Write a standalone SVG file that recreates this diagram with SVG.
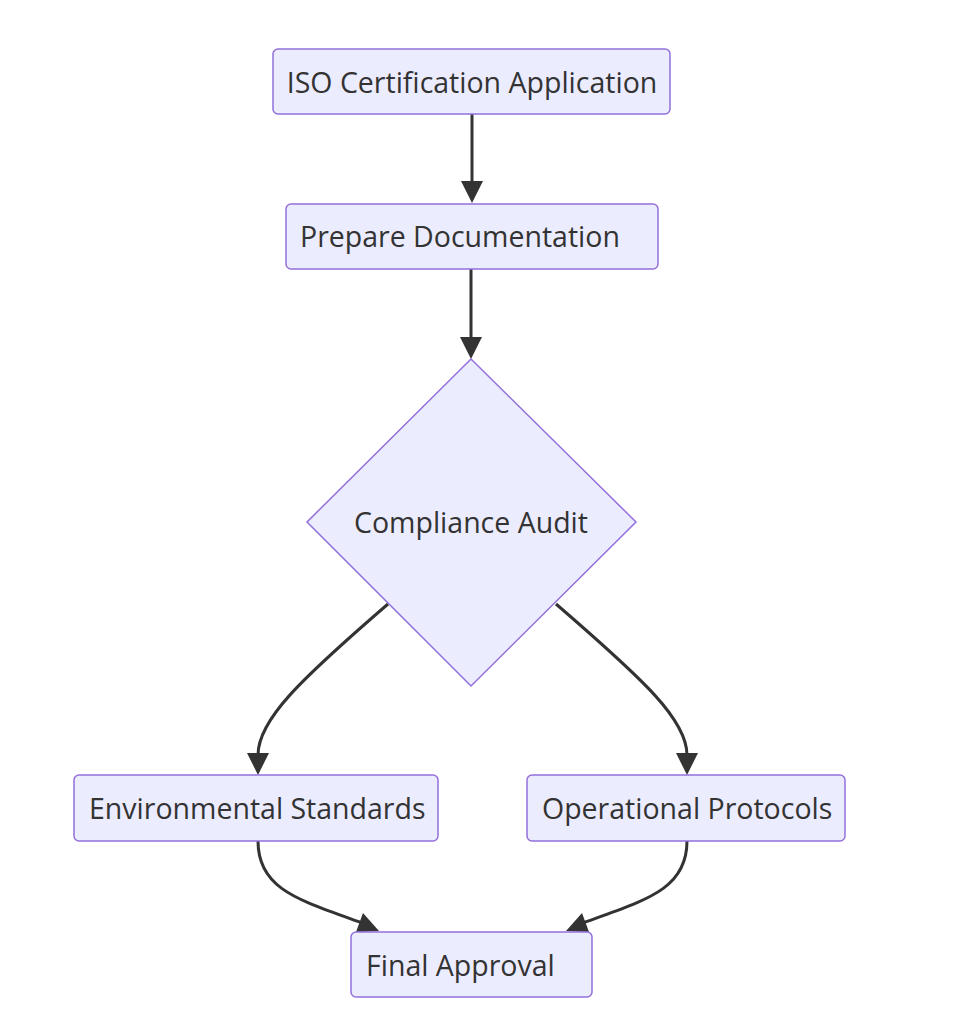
<svg xmlns="http://www.w3.org/2000/svg" width="956" height="1024" viewBox="0 0 956 1024">
<defs>
<style>
.n{fill:#ECECFF;stroke:#9370DB;stroke-width:1.5}
.t{font-family:"Open Sans","Liberation Sans",sans-serif;font-size:28.5px;fill:#333333}
.e{fill:none;stroke:#333333;stroke-width:3}
.h{fill:#333333}
</style>
</defs>
<rect width="956" height="1024" fill="#ffffff"/>
<g id="edges">
<path class="e" d="M472,114 L472,185"/>
<path class="h" d="M461,181 L483,181 L472,203 z"/>
<path class="e" d="M471,269 L471,340"/>
<path class="h" d="M460,337 L482,337 L471,359 z"/>
<path class="e" d="M388,604 C300,680 258,720 258,755"/>
<path class="h" d="M247,753 L269,753 L258,775 z"/>
<path class="e" d="M556,604 C644,680 687,720 687,755"/>
<path class="h" d="M676,753 L698,753 L687,775 z"/>
<path class="e" d="M258,841 C258,890 300,900 362,923"/>
<path class="h" d="M356,932 L379,931 L363,913 z"/>
<path class="e" d="M687,841 C687,890 645,900 583,923"/>
<path class="h" d="M589,932 L566,931 L582,913 z"/>
</g>
<g id="n1">
<rect class="n" x="273" y="49" width="397" height="65" rx="5"/>
<text class="t" x="472" y="93" text-anchor="middle">ISO Certification Application</text>
</g>
<g id="n2">
<rect class="n" x="286" y="204" width="372" height="65" rx="5"/>
<text class="t" x="300" y="247">Prepare Documentation</text>
</g>
<g id="n3">
<path class="n" d="M471,359 L636,522 L471,686 L307,522 z"/>
<text class="t" x="471" y="533" text-anchor="middle">Compliance Audit</text>
</g>
<g id="n4">
<rect class="n" x="74" y="775" width="364" height="66" rx="5"/>
<text class="t" x="89" y="819">Environmental Standards</text>
</g>
<g id="n5">
<rect class="n" x="527" y="775" width="318" height="66" rx="5"/>
<text class="t" x="542" y="819">Operational Protocols</text>
</g>
<g id="n6">
<rect class="n" x="351" y="932" width="241" height="65" rx="5"/>
<text class="t" x="366" y="976">Final Approval</text>
</g>
</svg>
